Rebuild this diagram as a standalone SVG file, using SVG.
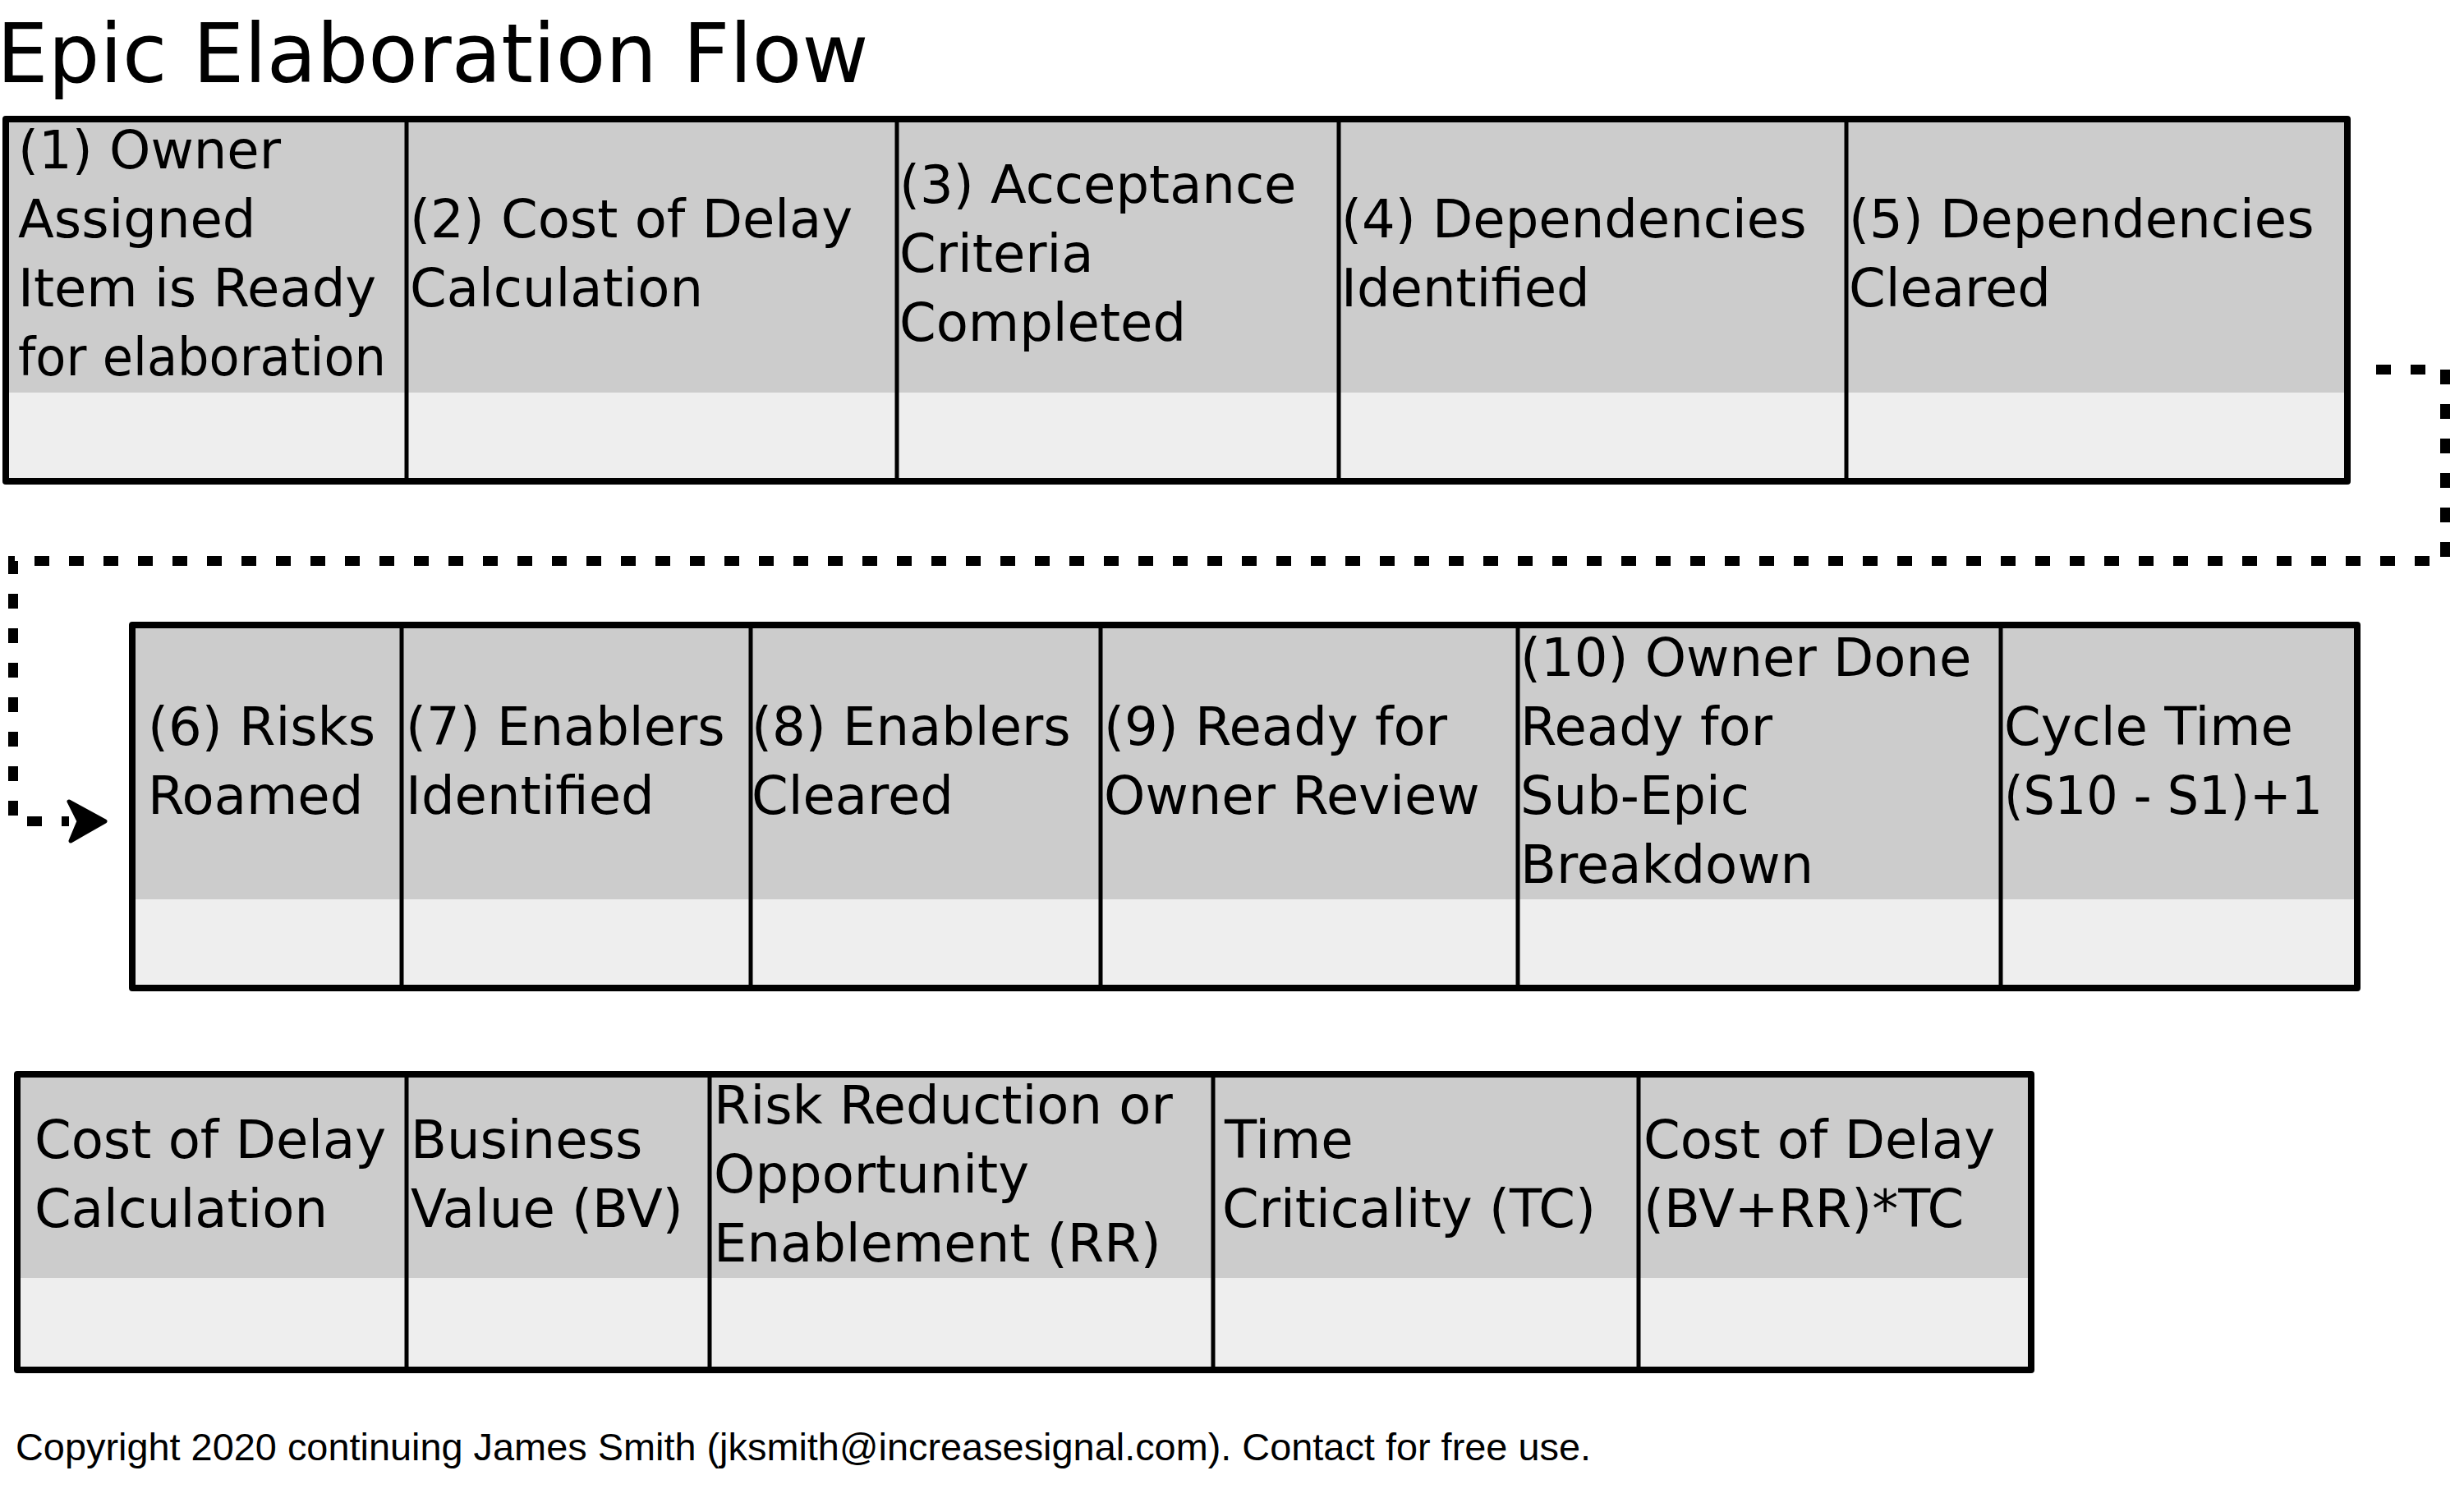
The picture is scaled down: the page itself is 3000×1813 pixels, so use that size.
<svg xmlns="http://www.w3.org/2000/svg" width="3000" height="1813" viewBox="0 0 3000 1813">
<defs>
<style>
.hd{fill:#cccccc;stroke:none}
.bd{fill:#eeeeee;stroke:none}
.frame{fill:none;stroke:#000;stroke-width:8;stroke-linejoin:round}
.div{stroke:#000;stroke-width:5}
.t{font-family:"DejaVu Sans","Liberation Sans",sans-serif;font-size:64px;fill:#000}
.title{font-family:"DejaVu Sans","Liberation Sans",sans-serif;font-size:99px;fill:#000}
.copy{font-family:"Liberation Sans","DejaVu Sans",sans-serif;font-size:46px;fill:#000}
.conn{fill:none;stroke:#000;stroke-width:12;stroke-dasharray:18 24}
</style>
<marker id="arrow" markerUnits="userSpaceOnUse" markerWidth="60" markerHeight="60" viewBox="0 0 60 60" refX="4" refY="30" orient="auto" overflow="visible">
<path d="M4,6 L48,30 L6,54 L16,30 Z" fill="#000" stroke="#000" stroke-width="5" stroke-linejoin="round"/>
</marker>
</defs>
<rect width="3000" height="1813" fill="#fff"/>
<text class="title" x="-4" y="100">Epic Elaboration Flow</text>

<g id="row1">
<g id="s1"><rect class="hd" x="7" y="145" width="488" height="333"/><rect class="bd" x="7" y="478" width="488" height="108"/>
<text class="t" x="22" y="205"><tspan x="22">(1) Owner</tspan><tspan x="22" dy="84">Assigned</tspan><tspan x="22" dy="84">Item is Ready</tspan></text>
<text class="t" x="22" y="457" textLength="448" lengthAdjust="spacingAndGlyphs">for elaboration</text></g>
<g id="s2"><rect class="hd" x="495" y="145" width="597" height="333"/><rect class="bd" x="495" y="478" width="597" height="108"/>
<text class="t" x="499" y="289"><tspan x="499">(2) Cost of Delay</tspan><tspan x="499" dy="84">Calculation</tspan></text></g>
<g id="s3"><rect class="hd" x="1092" y="145" width="538" height="333"/><rect class="bd" x="1092" y="478" width="538" height="108"/>
<text class="t" x="1095" y="247"><tspan x="1095">(3) Acceptance</tspan><tspan x="1095" dy="84">Criteria</tspan><tspan x="1095" dy="84">Completed</tspan></text></g>
<g id="s4"><rect class="hd" x="1630" y="145" width="618" height="333"/><rect class="bd" x="1630" y="478" width="618" height="108"/>
<text class="t" x="1633" y="289"><tspan x="1633">(4) Dependencies</tspan><tspan x="1633" dy="84">Identified</tspan></text></g>
<g id="s5"><rect class="hd" x="2248" y="145" width="610" height="333"/><rect class="bd" x="2248" y="478" width="610" height="108"/>
<text class="t" x="2251" y="289"><tspan x="2251">(5) Dependencies</tspan><tspan x="2251" dy="84">Cleared</tspan></text></g>
<g id="row1-frame"><rect class="frame" x="7" y="145" width="2851" height="441"/>
<line class="div" x1="495" y1="145" x2="495" y2="586"/><line class="div" x1="1092" y1="145" x2="1092" y2="586"/><line class="div" x1="1630" y1="145" x2="1630" y2="586"/><line class="div" x1="2248" y1="145" x2="2248" y2="586"/></g>
</g>

<g id="row2">
<g id="s6"><rect class="hd" x="161" y="761" width="328" height="334"/><rect class="bd" x="161" y="1095" width="328" height="108"/>
<text class="t" x="180" y="907"><tspan x="180">(6) Risks</tspan><tspan x="180" dy="84">Roamed</tspan></text></g>
<g id="s7"><rect class="hd" x="489" y="761" width="425" height="334"/><rect class="bd" x="489" y="1095" width="425" height="108"/>
<text class="t" x="494" y="907"><tspan x="494">(7) Enablers</tspan><tspan x="494" dy="84">Identified</tspan></text></g>
<g id="s8"><rect class="hd" x="914" y="761" width="426" height="334"/><rect class="bd" x="914" y="1095" width="426" height="108"/>
<text class="t" x="915" y="907"><tspan x="915">(8) Enablers</tspan><tspan x="915" dy="84">Cleared</tspan></text></g>
<g id="s9"><rect class="hd" x="1340" y="761" width="508" height="334"/><rect class="bd" x="1340" y="1095" width="508" height="108"/>
<text class="t" x="1344" y="907"><tspan x="1344">(9) Ready for</tspan><tspan x="1344" dy="84">Owner Review</tspan></text></g>
<g id="s10"><rect class="hd" x="1848" y="761" width="588" height="334"/><rect class="bd" x="1848" y="1095" width="588" height="108"/>
<text class="t" x="1851" y="823"><tspan x="1851">(10) Owner Done</tspan><tspan x="1851" dy="84">Ready for</tspan><tspan x="1851" dy="84">Sub-Epic</tspan><tspan x="1851" dy="84">Breakdown</tspan></text></g>
<g id="cycle"><rect class="hd" x="2436" y="761" width="434" height="334"/><rect class="bd" x="2436" y="1095" width="434" height="108"/>
<text class="t" x="2440" y="907">Cycle Time</text>
<text class="t" x="2440" y="991" textLength="388" lengthAdjust="spacingAndGlyphs">(S10 - S1)+1</text></g>
<g id="row2-frame"><rect class="frame" x="161" y="761" width="2709" height="442"/>
<line class="div" x1="489" y1="761" x2="489" y2="1203"/><line class="div" x1="914" y1="761" x2="914" y2="1203"/><line class="div" x1="1340" y1="761" x2="1340" y2="1203"/><line class="div" x1="1848" y1="761" x2="1848" y2="1203"/><line class="div" x1="2436" y1="761" x2="2436" y2="1203"/></g>
</g>

<g id="row3">
<g id="cod"><rect class="hd" x="21" y="1308" width="474" height="248"/><rect class="bd" x="21" y="1556" width="474" height="112"/>
<text class="t" x="42" y="1410"><tspan x="42">Cost of Delay</tspan><tspan x="42" dy="84">Calculation</tspan></text></g>
<g id="bv"><rect class="hd" x="495" y="1308" width="369" height="248"/><rect class="bd" x="495" y="1556" width="369" height="112"/>
<text class="t" x="500" y="1410"><tspan x="500">Business</tspan><tspan x="500" dy="84">Value (BV)</tspan></text></g>
<g id="rr"><rect class="hd" x="864" y="1308" width="613" height="248"/><rect class="bd" x="864" y="1556" width="613" height="112"/>
<text class="t" x="869" y="1368"><tspan x="869">Risk Reduction or</tspan><tspan x="869" dy="84">Opportunity</tspan><tspan x="869" dy="84">Enablement (RR)</tspan></text></g>
<g id="tc"><rect class="hd" x="1477" y="1308" width="518" height="248"/><rect class="bd" x="1477" y="1556" width="518" height="112"/>
<text class="t" x="1491" y="1410"><tspan x="1491">Time</tspan><tspan x="1488" dy="84">Criticality (TC)</tspan></text></g>
<g id="codf"><rect class="hd" x="1995" y="1308" width="478" height="248"/><rect class="bd" x="1995" y="1556" width="478" height="112"/>
<text class="t" x="2001" y="1410"><tspan x="2001">Cost of Delay</tspan><tspan x="2001" dy="84">(BV+RR)*TC</tspan></text></g>
<g id="row3-frame"><rect class="frame" x="21" y="1308" width="2452" height="360"/>
<line class="div" x1="495" y1="1308" x2="495" y2="1668"/><line class="div" x1="864" y1="1308" x2="864" y2="1668"/><line class="div" x1="1477" y1="1308" x2="1477" y2="1668"/><line class="div" x1="1995" y1="1308" x2="1995" y2="1668"/></g>
</g>

<g id="connectors">
<path class="conn" d="M2893,450 H2977 V683 H16 V1000 H84" marker-end="url(#arrow)"/>
</g>

<text class="copy" x="19" y="1778" textLength="1918" lengthAdjust="spacingAndGlyphs">Copyright 2020 continuing James Smith (jksmith@increasesignal.com). Contact for free use.</text>
</svg>
